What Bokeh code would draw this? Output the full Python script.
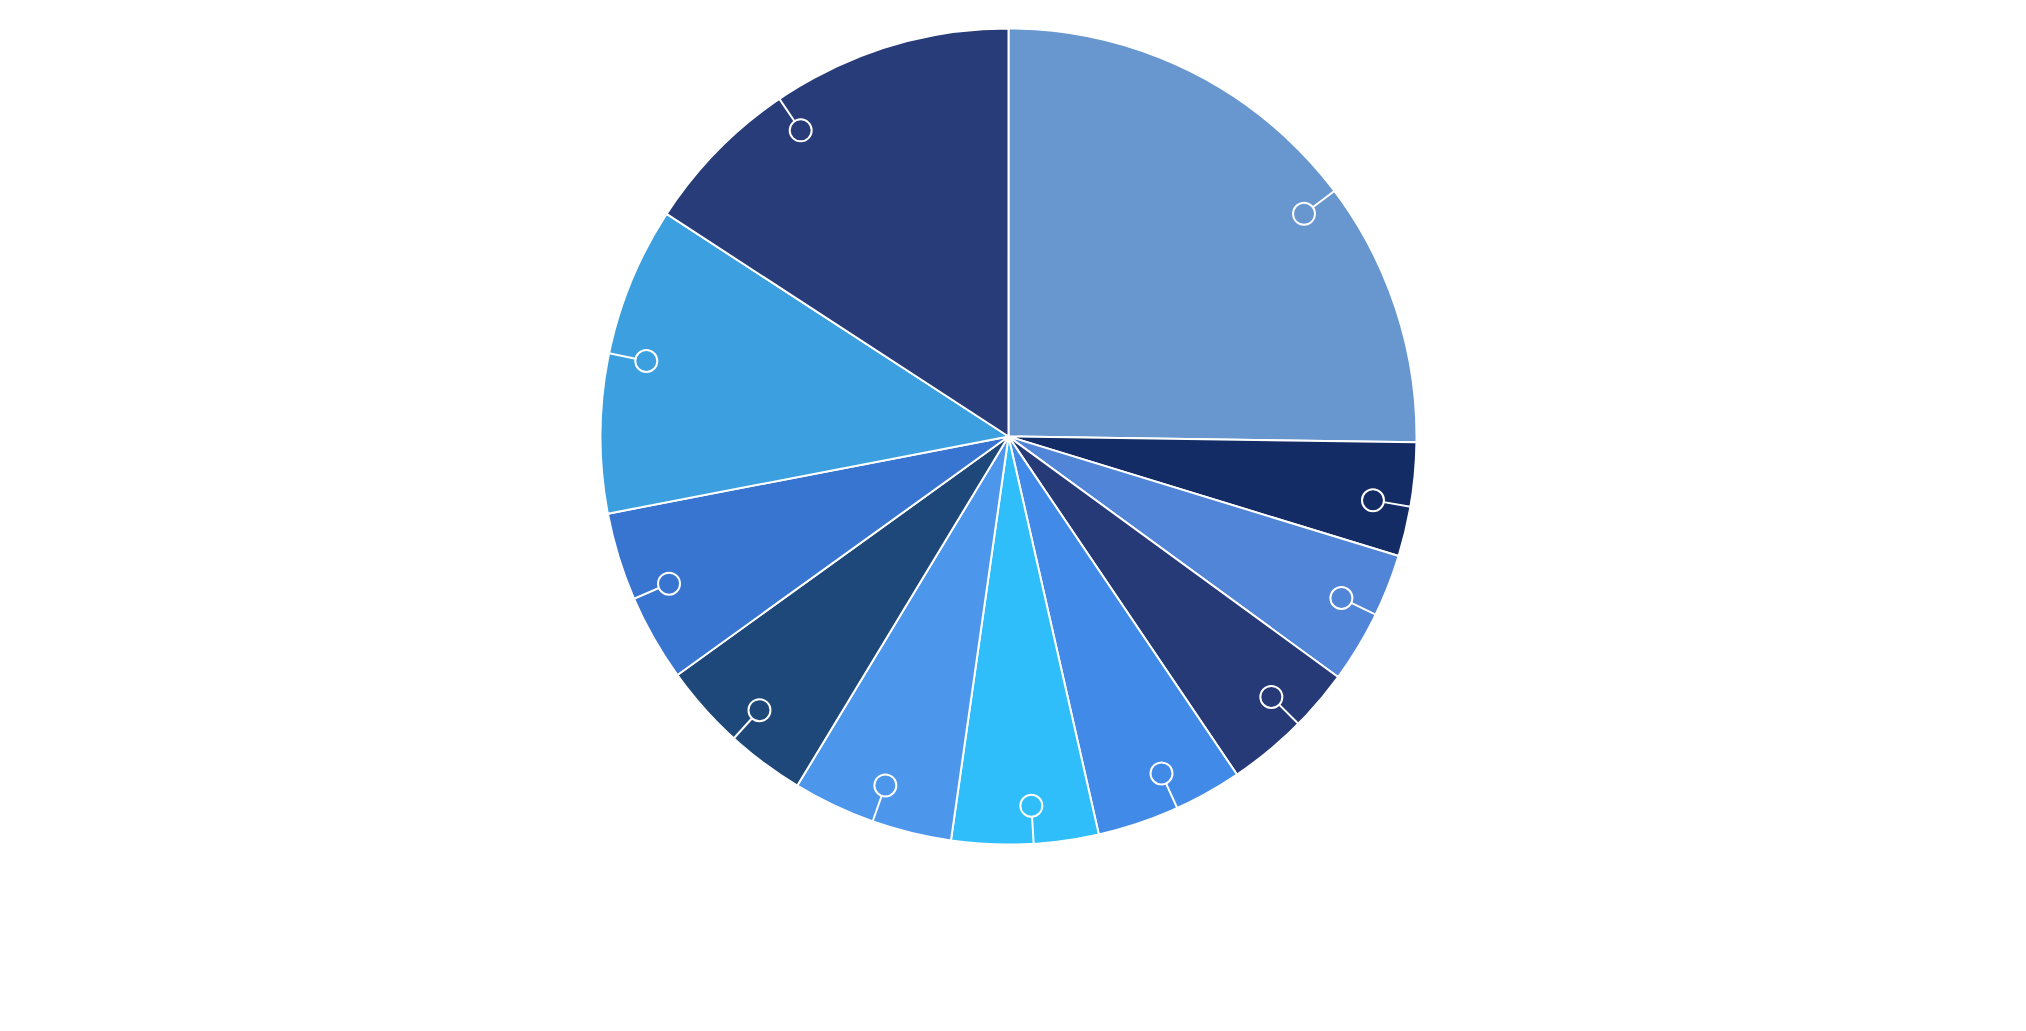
import math
from bokeh.plotting import figure
from bokeh.models import Range1d, ColumnDataSource
from bokeh.embed import file_html
from bokeh.resources import INLINE

# ---- data ----
categories = ["A", "B", "C", "D", "E", "F", "G", "H", "I", "J", "K"]
values = [25.2, 4.5, 5.3, 5.5, 5.9, 5.8, 6.4, 6.4, 6.9, 12.2, 15.8]
colors = ["#6897CF", "#142C66", "#5085D8", "#263A78", "#418AE8", "#2FBEF9",
          "#4C96EC", "#1E4879", "#3775D0", "#3B9FE0", "#283C7A"]
# label-line angle adjustments (degrees) as laid out in the original
label_shift = [-7.6, -1.0, 0.7, 1.3, 1.0, 1.2, 0.2, 0.4, 0.1, -0.7, 5.7]

W, H = 2010, 1010
CX, CY = 1008, H - 436
R = 408
R_MARK = 370
MARK_R = 11

total = sum(values)
starts, ends, mids = [], [], []
cum = 0.0
for v in values:
    a0 = math.pi / 2 - 2 * math.pi * cum / total
    cum += v
    a1 = math.pi / 2 - 2 * math.pi * cum / total
    starts.append(a0)
    ends.append(a1)
    mids.append((a0 + a1) / 2)

src = ColumnDataSource(dict(cat=categories, val=values, color=colors,
                            start=starts, end=ends))

p = figure(width=W, height=H, x_range=Range1d(0, W), y_range=Range1d(0, H),
           x_axis_type=None, y_axis_type=None, toolbar_location=None,
           output_backend="svg", min_border=0)
p.grid.visible = False
p.outline_line_color = None
p.background_fill_color = "white"

p.wedge(x=CX, y=CY, radius=R, start_angle="start", end_angle="end",
        direction="clock", fill_color="color", line_color="white",
        line_width=2, source=src)

la = [m + math.radians(s) for m, s in zip(mids, label_shift)]
mx = [CX + R_MARK * math.cos(a) for a in la]
my = [CY + R_MARK * math.sin(a) for a in la]
x0 = [CX + (R_MARK + MARK_R) * math.cos(a) for a in la]
y0 = [CY + (R_MARK + MARK_R) * math.sin(a) for a in la]
x1 = [CX + R * math.cos(a) for a in la]
y1 = [CY + R * math.sin(a) for a in la]

p.segment(x0=x0, y0=y0, x1=x1, y1=y1, line_color="white", line_width=2)
p.scatter(x=mx, y=my, marker="circle", size=2 * MARK_R, fill_alpha=0,
          line_color="white", line_width=2)

open("out.html", "w").write(file_html(p, INLINE))
